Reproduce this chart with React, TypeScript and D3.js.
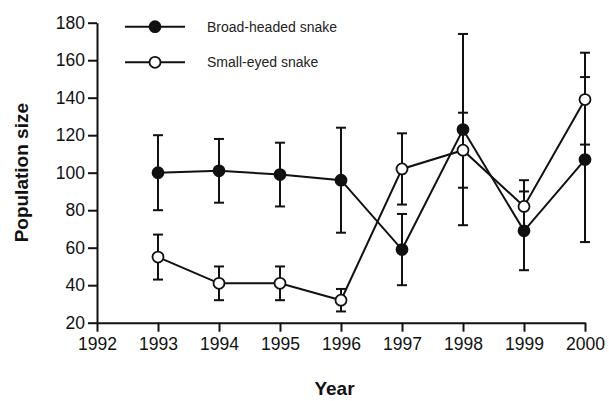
import React, { useEffect, useRef } from "react";
import * as d3 from "d3";

const years = [1993, 1994, 1995, 1996, 1997, 1998, 1999, 2000];
const broadMean = [100, 101, 99, 96, 59, 123, 69, 107];
const broadLow = [80, 84, 82, 68, 40, 72, 48, 63];
const broadHigh = [120, 118, 116, 124, 78, 174, 90, 151];
const smallMean = [55, 41, 41, 32, 102, 112, 82, 139];
const smallLow = [43, 32, 32, 26, 83, 92, 70, 115];
const smallHigh = [67, 50, 50, 38, 121, 132, 96, 164];
const xTicks = [1992, 1993, 1994, 1995, 1996, 1997, 1998, 1999, 2000];
const yTicks = [20, 40, 60, 80, 100, 120, 140, 160, 180];
const seriesNames = ["Broad-headed snake", "Small-eyed snake"];

const W = 609;
const H = 401;
const FONT = "'Liberation Sans', Arial, Helvetica, sans-serif";

export default function App() {
  const ref = useRef<SVGSVGElement>(null);

  useEffect(() => {
    const svg = d3.select(ref.current);
    svg.selectAll("*").remove();
    const x = d3.scaleLinear().domain([1992, 2000]).range([97, 585]);
    const y = d3.scaleLinear().domain([20, 180]).range([322.7, 22.7]);

    // axes
    const gx = svg.append("g").attr("transform", `translate(0,${y(20)})`)
      .call(d3.axisBottom(x).tickValues(xTicks).tickFormat(d3.format("d")).tickSize(9).tickSizeOuter(0).tickPadding(6));
    const gy = svg.append("g").attr("transform", `translate(${x(1992)},0)`)
      .call(d3.axisLeft(y).tickValues(yTicks).tickSize(9).tickSizeOuter(0).tickPadding(3));
    [gx, gy].forEach((g) => {
      g.select(".domain").attr("stroke", "#111").attr("stroke-width", 2);
      g.selectAll(".tick line").attr("stroke", "#111").attr("stroke-width", 2);
      g.selectAll(".tick text").attr("fill", "#111").attr("font-family", FONT).attr("font-size", 17.5);
    });

    const series = [
      { mean: broadMean, low: broadLow, high: broadHigh, fill: "#111" },
      { mean: smallMean, low: smallLow, high: smallHigh, fill: "#fff" },
    ];

    const line = d3.line<number>().x((_, i) => x(years[i])).y((d) => y(d));

    // error bars
    series.forEach((s) => {
      const g = svg.append("g");
      years.forEach((yr, i) => {
        const cx = x(yr);
        g.append("line").attr("x1", cx).attr("x2", cx).attr("y1", y(s.low[i])).attr("y2", y(s.high[i]))
          .attr("stroke", "#111").attr("stroke-width", 2);
        [s.low[i], s.high[i]].forEach((v) => {
          g.append("line").attr("x1", cx - 5).attr("x2", cx + 5).attr("y1", y(v)).attr("y2", y(v))
            .attr("stroke", "#111").attr("stroke-width", 2);
        });
      });
    });

    // lines
    series.forEach((s) => {
      svg.append("path").attr("d", line(s.mean)).attr("fill", "none").attr("stroke", "#111").attr("stroke-width", 2);
    });

    // markers
    series.forEach((s) => {
      svg.append("g").selectAll("circle").data(s.mean).join("circle")
        .attr("cx", (_, i) => x(years[i])).attr("cy", (d) => y(d)).attr("r", 5.5)
        .attr("fill", s.fill).attr("stroke", "#111").attr("stroke-width", 1.8);
    });

    // legend
    const legendY = [26.7, 62.3];
    series.forEach((s, i) => {
      const g = svg.append("g");
      g.append("line").attr("x1", 125).attr("x2", 185).attr("y1", legendY[i]).attr("y2", legendY[i])
        .attr("stroke", "#111").attr("stroke-width", 2);
      g.append("circle").attr("cx", 155).attr("cy", legendY[i]).attr("r", 5.5)
        .attr("fill", s.fill).attr("stroke", "#111").attr("stroke-width", 1.8);
      g.append("text").attr("x", 207).attr("y", legendY[i] + 5).attr("font-family", FONT).attr("font-size", 14)
        .attr("fill", "#222").text(seriesNames[i]);
    });

    // axis titles
    svg.append("text").attr("transform", `translate(28,${y(100)}) rotate(-90)`).attr("text-anchor", "middle")
      .attr("font-family", FONT).attr("font-weight", "bold").attr("font-size", 19).attr("fill", "#111")
      .text("Population size");
    svg.append("text").attr("x", 334.5).attr("y", 395).attr("text-anchor", "middle")
      .attr("font-family", FONT).attr("font-weight", "bold").attr("font-size", 19).attr("fill", "#111")
      .text("Year");
  }, []);

  return (
    <svg ref={ref} width={W} height={H} style={{ position: "absolute", left: 0, top: 0, background: "#fff" }} />
  );
}
